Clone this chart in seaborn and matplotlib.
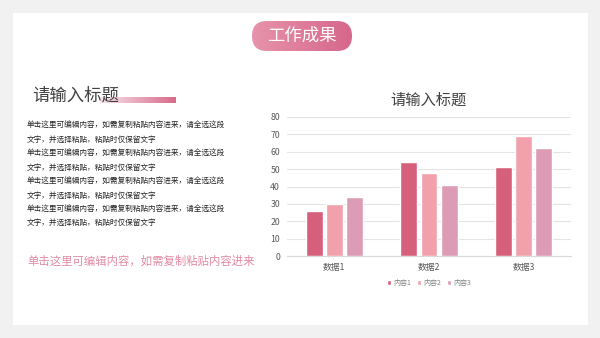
import matplotlib
matplotlib.use("Agg")
import matplotlib.pyplot as plt
import numpy as np
import pandas as pd
import seaborn as sns
from matplotlib.patches import FancyBboxPatch, Rectangle
from matplotlib.colors import LinearSegmentedColormap

# ---- data ----
categories = ["数据1", "数据2", "数据3"]
series_names = ["内容1", "内容2", "内容3"]
content1 = [26, 54, 51]
content2 = [30, 48, 69]
content3 = [34, 41, 62]
y_ticks = [0, 10, 20, 30, 40, 50, 60, 70, 80]
colors = ["#d6607c", "#f2a0ab", "#dd9cb5"]

slide_title = "工作成果"
left_title = "请输入标题"
chart_title = "请输入标题"
body_lines = [
    "单击这里可编辑内容，如需复制粘贴内容进来，请全选这段",
    "文字，并选择粘贴，粘贴时仅保留文字",
] * 4
pink_line = "单击这里可编辑内容，如需复制粘贴内容进来"

df = pd.DataFrame({
    "category": categories * 3,
    "series": [s for s in series_names for _ in categories],
    "value": content1 + content2 + content3,
})

sns.set_theme(style="white")
plt.rcParams["font.family"] = ["Noto Sans CJK SC", "DejaVu Sans"]

W, H = 600, 338
fig = plt.figure(figsize=(6, 3.38), dpi=100, facecolor="#f1f1f1")

# decoration layer in pixel coordinates
deco = fig.add_axes([0, 0, 1, 1], zorder=0)
deco.set_xlim(0, W)
deco.set_ylim(H, 0)
deco.axis("off")
deco.add_patch(Rectangle((13, 13), 575, 312, facecolor="white", edgecolor="none"))

# pill with gradient
pill = FancyBboxPatch((252, 21), 100, 30, boxstyle="round,pad=0,rounding_size=15",
                      facecolor="none", edgecolor="none")
deco.add_patch(pill)
cmap_pill = LinearSegmentedColormap.from_list("p", ["#e793ac", "#d6678b"])
grad = np.linspace(0, 1, 256).reshape(1, -1)
im = deco.imshow(grad, extent=(252, 352, 51, 21), cmap=cmap_pill, aspect="auto", zorder=1)
im.set_clip_path(pill)
deco.text(302, 36, slide_title, color="white", fontsize=12.5, ha="center", va="center", zorder=2)

# left title with gradient underline bar
cmap_bar = LinearSegmentedColormap.from_list("b", ["#f8e6ec", "#d8698b"])
deco.imshow(grad, extent=(100, 176, 103, 97), cmap=cmap_bar, aspect="auto", zorder=1)
deco.text(32, 96, left_title, color="#404040", fontsize=12.5, ha="left", va="center", zorder=2)

for i, line in enumerate(body_lines):
    deco.text(27, 126 + i * 13.9, line, color="#262626", fontsize=5.5,
              ha="left", va="center", fontweight="medium")

deco.text(27, 261, pink_line, color="#e38aa3", fontsize=8.2, ha="left", va="center")

# chart
ax = fig.add_axes([287 / W, 1 - 256 / H, (571 - 287) / W, (256 - 117) / H], zorder=1)
ax.patch.set_alpha(0)
sns.barplot(data=df, x="category", y="value", hue="series", palette=colors,
            width=0.64, gap=0.17, ax=ax, saturation=1, legend=True)
ax.set_xlim(-0.5, 2.5)
ax.set_ylim(0, 80)
ax.set_yticks(y_ticks)
ax.yaxis.grid(True, color="#e3e3e3", linewidth=0.8)
ax.set_axisbelow(True)
for s in ["top", "right", "left"]:
    ax.spines[s].set_visible(False)
ax.spines["bottom"].set_color("#d9d9d9")
ax.spines["bottom"].set_linewidth(0.8)
ax.tick_params(axis="both", length=0, colors="#595959", labelsize=6.3)
ax.tick_params(axis="x", pad=5)
ax.tick_params(axis="y", pad=5)
ax.set_xlabel("")
ax.set_ylabel("")
ax.set_title(chart_title, fontsize=11, color="#404040", pad=9)

handles, labels = ax.get_legend_handles_labels()
ax.legend(handles, labels, loc="center", bbox_to_anchor=(0.5, -0.195), ncol=3,
          frameon=False, fontsize=5, handlelength=0.6, handleheight=0.6,
          columnspacing=0.8, handletextpad=0.3, labelcolor="#808080")

fig.savefig("out.png", dpi=100, facecolor=fig.get_facecolor())
